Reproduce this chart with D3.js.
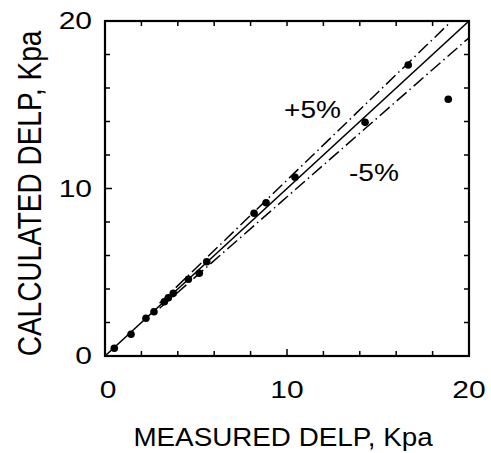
<!DOCTYPE html>
<html>
<head>
<meta charset="utf-8">
<script src="https://cdn.jsdelivr.net/npm/d3@7"></script>
<style>
  html, body { margin: 0; padding: 0; background: #fff; }
  svg { display: block; }
  text { font-family: "Liberation Sans", Arial, Helvetica, sans-serif; fill: #000; }
</style>
</head>
<body>
<svg id="chart" width="491" height="453"></svg>
<script>
// ---- data ----
const measured   = [0.51, 1.43, 2.25, 2.69, 3.26, 3.48, 3.75, 4.58, 5.18, 5.59, 8.19, 8.85, 10.44, 14.29, 16.66, 18.86];
const calculated = [0.46, 1.30, 2.25, 2.64, 3.24, 3.48, 3.74, 4.58, 4.94, 5.63, 8.52, 9.15, 10.67, 13.95, 17.37, 15.33];
const axisTicks  = [0, 10, 20];
const minorTicks = [2, 4, 6, 8, 10, 12, 14, 16, 18];
const bandFactors = [1.05, 0.95];
const bandLabels = ["+5%", "-5%"];
const xTitle = "MEASURED DELP, Kpa";
const yTitle = "CALCULATED DELP, Kpa";

// ---- layout ----
const svg = d3.select("#chart");
const L = 105, R = 469, T = 21, B = 356;
const x = d3.scaleLinear().domain([0, 20]).range([L, R]);
const y = d3.scaleLinear().domain([0, 20]).range([B, T]);

// frame
svg.append("rect").attr("x", L).attr("y", T).attr("width", R - L).attr("height", B - T)
  .attr("fill", "none").attr("stroke", "#000").attr("stroke-width", 2.2);

// inward ticks on all four sides
const tl = 5;
const tg = svg.append("g").attr("stroke", "#000").attr("stroke-width", 1.5);
minorTicks.forEach(v => {
  const len = v === 10 ? 7 : tl;
  tg.append("line").attr("x1", x(v)).attr("x2", x(v)).attr("y1", B).attr("y2", B - len);
  tg.append("line").attr("x1", x(v)).attr("x2", x(v)).attr("y1", T).attr("y2", T + tl);
  tg.append("line").attr("x1", L).attr("x2", L + len).attr("y1", y(v)).attr("y2", y(v));
  tg.append("line").attr("x1", R).attr("x2", R - tl).attr("y1", y(v)).attr("y2", y(v));
});

// tick labels
const sx = 1.25;
axisTicks.forEach(v => {
  svg.append("text").text(v)
    .attr("text-anchor", "end").attr("font-size", 24)
    .attr("transform", `translate(92,${y(v) + 8.3}) scale(${sx},1)`);
  svg.append("text").text(v)
    .attr("text-anchor", "middle").attr("font-size", 24)
    .attr("transform", `translate(${x(v) + (v === 0 ? 3 : 0)},398) scale(${sx},1)`);
});

// axis titles
svg.append("text").text(xTitle)
  .attr("text-anchor", "middle").attr("font-size", 26)
  .attr("transform", `translate(283,445.5) scale(1.07,1)`);
svg.append("text").text(yTitle)
  .attr("text-anchor", "middle").attr("font-size", 28)
  .attr("transform", `translate(40.5,193.5) scale(1.2,1) rotate(-90)`);

// clip for lines
svg.append("clipPath").attr("id", "plotclip")
  .append("rect").attr("x", L).attr("y", T).attr("width", R - L).attr("height", B - T);

const line = d3.line().x(d => x(d[0])).y(d => y(d[1]));
const lg = svg.append("g").attr("clip-path", "url(#plotclip)");
// 1:1 line
lg.append("path").datum([[0, 0], [20, 20]]).attr("d", line)
  .attr("fill", "none").attr("stroke", "#000").attr("stroke-width", 1.5);
// +/-5% lines
bandFactors.forEach(f => {
  const xe = Math.min(20, 20 / f);
  lg.append("path").datum([[3, 3 * f], [xe, xe * f]]).attr("d", line)
    .attr("fill", "none").attr("stroke", "#000").attr("stroke-width", 1.5)
    .attr("stroke-dasharray", "13,4,1.5,4");
});

// band labels
svg.append("text").text(bandLabels[0]).attr("font-size", 23)
  .attr("transform", `translate(284,118.3) scale(1.22,1)`);
svg.append("text").text(bandLabels[1]).attr("font-size", 23)
  .attr("transform", `translate(349,180.7) scale(1.22,1)`);

// points
svg.append("g").selectAll("circle").data(measured).join("circle")
  .attr("cx", d => x(d)).attr("cy", (d, i) => y(calculated[i]))
  .attr("r", 3.8).attr("fill", "#000");
</script>
</body>
</html>
